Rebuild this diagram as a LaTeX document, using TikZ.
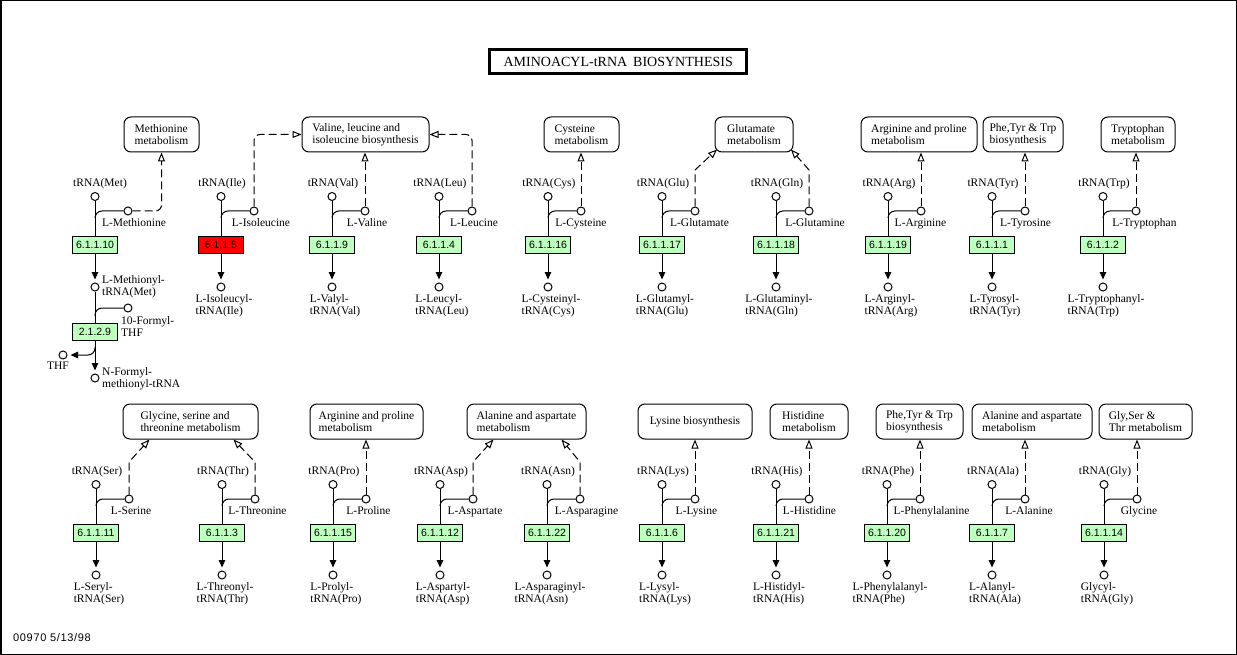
\documentclass[tikz,border=0pt]{standalone}
\usepackage{fontspec}
\setmainfont{Liberation Serif}
\newfontfamily\ecfont{Liberation Sans}
\usetikzlibrary{arrows.meta,calc}
\definecolor{ecgreen}{HTML}{BFFFBF}
\definecolor{ecred}{HTML}{FF0000}

\tikzset{
  every node/.style={font=\fontsize{11.5}{12}\selectfont, inner sep=0pt},
  lbl/.style={text height=8.2pt, text depth=2.6pt},
  lbltwo/.style={align=left},
  cpd/.style={circle, draw, fill=white, minimum size=8pt, line width=1pt},
  ecbox/.style={draw, line width=1pt, fill=ecgreen, minimum width=45pt,
    minimum height=17pt, font=\ecfont\fontsize{10.5}{12}\selectfont},
  ecmiss/.style={ecbox, fill=ecred},
  pathbox/.style={draw, rounded corners=7pt, line width=1pt, align=left,
    minimum height=35pt},
  link/.style={line width=1pt},
  react/.style={link, -{Triangle[length=7.5pt,width=6.5pt]}, shorten >=3pt},
  relate/.style={link, dash pattern=on 8pt off 4pt,
    -{Triangle[open,length=9pt,width=7pt,fill=white]}},
}

% one aminoacylation step: id, main x, y offset, tRNA, amino acid,
% amino acid label centre x, EC number, product, enzyme box style
\newcommand\aamod[9]{%
  \node[cpd] (#1-t) at (#2, #3+196.5) {};
  \node[lbl] (#1-tl) at (#2+1, #3+184) {#4};
  \node[cpd] (#1-a) at (#2+33, #3+211) {};
  \node[lbl] (#1-al) at (#6, #3+224) {#5};
  \node[#9] (#1-e) at (#2, #3+245) {#7};
  \node[cpd] (#1-p) at (#2, #3+287) {};
  \node[lbltwo, anchor=north] (#1-pl) at (#2+3, #3+294.5) {#8};
  \coordinate (#1-j) at (#2, #3+218);
  \draw[link] (#1-t) -- (#1-e);
  \draw[link, rounded corners=7pt] (#1-j) |- (#1-a);
  \draw[react] (#1-e) -- (#1-p);
}

\begin{document}
\begin{tikzpicture}[x=1pt, y=-1pt]
\useasboundingbox (0,0) rectangle (1237,655);
\draw[line width=1.5pt] (0.75,0.75) rectangle (1236.25,654.25);

% title
\node[draw, line width=3pt, minimum width=257pt, minimum height=24pt,
  font=\fontsize{14}{16}\selectfont] (title) at (618.2,61.7)
  {AMINOACYL-tRNA\hspace{6pt}BIOSYNTHESIS};

% linked pathways, upper row
\node[pathbox, minimum width=75pt]  (metpw)  at (161.5,134.5) {Methionine\\metabolism};
\node[pathbox, minimum width=127pt] (vlipw)  at (365.5,134.5) {Valine, leucine and\\isoleucine biosynthesis};
\node[pathbox, minimum width=75pt]  (cyspw)  at (581.5,134.5) {Cysteine\\metabolism};
\node[pathbox, minimum width=78pt]  (glupw)  at (754,134.5)   {Glutamate\\metabolism};
\node[pathbox, minimum width=116pt] (arg1pw) at (919,134.5)   {Arginine and proline\\metabolism};
\node[pathbox, minimum width=80pt]  (aro1pw) at (1023,134.5)  {Phe,Tyr \& Trp\\biosynthesis};
\node[pathbox, minimum width=74pt]  (trppw)  at (1138,134.5)  {Tryptophan\\metabolism};

% linked pathways, lower row
\node[pathbox, minimum width=135pt] (gstpw)  at (190.5,421.5) {Glycine, serine and\\threonine metabolism};
\node[pathbox, minimum width=113pt] (arg2pw) at (366.5,421.5) {Arginine and proline\\metabolism};
\node[pathbox, minimum width=119pt] (asp1pw) at (526.5,421.5) {Alanine and aspartate\\metabolism};
\node[pathbox, minimum width=114pt] (lyspw)  at (695,421.5)   {Lysine biosynthesis};
\node[pathbox, minimum width=78pt]  (hispw)  at (809,421.5)   {Histidine\\metabolism};
\node[pathbox, minimum width=87pt]  (aro2pw) at (919.5,421.5) {Phe,Tyr \& Trp\\biosynthesis};
\node[pathbox, minimum width=120pt] (asp2pw) at (1032,421.5)  {Alanine and aspartate\\metabolism};
\node[pathbox, minimum width=93pt]  (glypw)  at (1145.5,421.5) {Gly,Ser \&\\Thr metabolism};

% methionine and its formylation
\node[cpd] (met-t) at (95,196.5) {};
\node[lbl] (met-tl) at (100,184) {tRNA(Met)};
\node[cpd] (met-a) at (128,211) {};
\node[lbl] (met-al) at (134,224) {L-Methionine};
\node[ecbox] (met-e) at (95,245) {6.1.1.10};
\node[cpd] (met-p) at (95,287) {};
\node[lbltwo, anchor=west] (met-pl) at (102,286.5) {L-Methionyl-\\tRNA(Met)};
\coordinate (met-j) at (95,218);
\draw[link] (met-t) -- (met-e);
\draw[link, rounded corners=7pt] (met-j) |- (met-a);
\draw[react] (met-e) -- (met-p);
\draw[relate, rounded corners=6pt] (met-a) -| (metpw);

\node[cpd] (fthf) at (128,308) {};
\node[lbltwo, anchor=west] (fthf-l) at (121,326.5) {10-Formyl-\\THF};
\node[ecbox] (fmt) at (95,331.5) {2.1.2.9};
\node[cpd] (fmet) at (95,378) {};
\node[lbltwo, anchor=west] (fmet-l) at (102,378.5) {N-Formyl-\\methionyl-tRNA};
\node[cpd] (thf) at (63,355) {};
\node[lbl] (thf-l) at (58,367) {THF};
\coordinate (fthf-j) at (95,316);
\coordinate (thf-j) at (95,347);
\draw[link] (met-p) -- (fmt);
\draw[link, rounded corners=7pt] (fthf-j) |- (fthf);
\draw[react] (fmt) -- (fmet);
\draw[react, rounded corners=7pt] (thf-j) |- (thf);

% upper row of aminoacylations
\aamod{ile}{221}{0}{tRNA(Ile)}{L-Isoleucine}{261}{6.1.1.5}{L-Isoleucyl-\\tRNA(Ile)}{ecmiss}
\aamod{val}{332}{0}{tRNA(Val)}{L-Valine}{367}{6.1.1.9}{L-Valyl-\\tRNA(Val)}{ecbox}
\aamod{leu}{439}{0}{tRNA(Leu)}{L-Leucine}{474}{6.1.1.4}{L-Leucyl-\\tRNA(Leu)}{ecbox}
\aamod{cys}{548}{0}{tRNA(Cys)}{L-Cysteine}{581}{6.1.1.16}{L-Cysteinyl-\\tRNA(Cys)}{ecbox}
\aamod{glu}{662}{0}{tRNA(Glu)}{L-Glutamate}{699.5}{6.1.1.17}{L-Glutamyl-\\tRNA(Glu)}{ecbox}
\aamod{gln}{776}{0}{tRNA(Gln)}{L-Glutamine}{815}{6.1.1.18}{L-Glutaminyl-\\tRNA(Gln)}{ecbox}
\aamod{arg}{888}{0}{tRNA(Arg)}{L-Arginine}{920.5}{6.1.1.19}{L-Arginyl-\\tRNA(Arg)}{ecbox}
\aamod{tyr}{992}{0}{tRNA(Tyr)}{L-Tyrosine}{1025.5}{6.1.1.1}{L-Tyrosyl-\\tRNA(Tyr)}{ecbox}
\aamod{trp}{1103}{0}{tRNA(Trp)}{L-Tryptophan}{1144.5}{6.1.1.2}{L-Tryptophanyl-\\tRNA(Trp)}{ecbox}

% lower row of aminoacylations
\aamod{ser}{96}{288}{tRNA(Ser)}{L-Serine}{131}{6.1.1.11}{L-Seryl-\\tRNA(Ser)}{ecbox}
\aamod{thr}{222}{288}{tRNA(Thr)}{L-Threonine}{257.5}{6.1.1.3}{L-Threonyl-\\tRNA(Thr)}{ecbox}
\aamod{pro}{333}{288}{tRNA(Pro)}{L-Proline}{368.5}{6.1.1.15}{L-Prolyl-\\tRNA(Pro)}{ecbox}
\aamod{asp}{440}{288}{tRNA(Asp)}{L-Aspartate}{475}{6.1.1.12}{L-Aspartyl-\\tRNA(Asp)}{ecbox}
\aamod{asn}{547}{288}{tRNA(Asn)}{L-Asparagine}{586.5}{6.1.1.22}{L-Asparaginyl-\\tRNA(Asn)}{ecbox}
\aamod{lys}{662}{288}{tRNA(Lys)}{L-Lysine}{696.5}{6.1.1.6}{L-Lysyl-\\tRNA(Lys)}{ecbox}
\aamod{his}{776}{288}{tRNA(His)}{L-Histidine}{809.5}{6.1.1.21}{L-Histidyl-\\tRNA(His)}{ecbox}
\aamod{phe}{887}{288}{tRNA(Phe)}{L-Phenylalanine}{931.5}{6.1.1.20}{L-Phenylalanyl-\\tRNA(Phe)}{ecbox}
\aamod{ala}{992}{288}{tRNA(Ala)}{L-Alanine}{1029}{6.1.1.7}{L-Alanyl-\\tRNA(Ala)}{ecbox}
\aamod{gly}{1104}{288}{tRNA(Gly)}{Glycine}{1139}{6.1.1.14}{Glycyl-\\tRNA(Gly)}{ecbox}

% amino acids to their pathways, upper row
\draw[relate, rounded corners=6pt] (ile-a) |- (vlipw.west);
\draw[relate] (val-a) -- (val-a |- vlipw.south);
\draw[relate, rounded corners=6pt] (leu-a) |- (vlipw.east);
\draw[relate] (cys-a) -- (cys-a |- cyspw.south);
\coordinate (glu-tip) at ($(glupw.south west)+(2.5,-3)$);
\coordinate (gln-tip) at ($(glupw.south east)+(-2.5,-3)$);
\draw[relate] (glu-a) -- ++(0,-41) -- (glu-tip);
\draw[relate] (gln-a) -- ++(0,-41) -- (gln-tip);
\draw[relate] (arg-a) -- (arg-a |- arg1pw.south);
\draw[relate] (tyr-a) -- (tyr-a |- aro1pw.south);
\draw[relate] (trp-a) -- (trp-a |- trppw.south);

% amino acids to their pathways, lower row
\coordinate (ser-tip) at ($(gstpw.south west)+(27,0)$);
\coordinate (thr-tip) at ($(gstpw.south east)+(-25,0)$);
\draw[relate] (ser-a) -- ++(0,-37) -- (ser-tip);
\draw[relate] (thr-a) -- ++(0,-37) -- (thr-tip);
\draw[relate] (pro-a) -- (pro-a |- arg2pw.south);
\coordinate (asp-tip) at ($(asp1pw.south west)+(27,0)$);
\coordinate (asn-tip) at ($(asp1pw.south east)+(-25,0)$);
\draw[relate] (asp-a) -- ++(0,-37) -- (asp-tip);
\draw[relate] (asn-a) -- ++(0,-37) -- (asn-tip);
\draw[relate] (lys-a) -- (lys-a |- lyspw.south);
\draw[relate] (his-a) -- (his-a |- hispw.south);
\draw[relate] (phe-a) -- (phe-a |- aro2pw.south);
\draw[relate] (ala-a) -- (ala-a |- asp2pw.south);
\draw[relate] (gly-a) -- (gly-a |- glypw.south);

% map number and date
\node[anchor=west, font=\ecfont\fontsize{11}{13}\selectfont\addfontfeatures{LetterSpace=6}]
  (stamp) at (13,637.5) {00970 5/13/98};
\end{tikzpicture}
\end{document}
